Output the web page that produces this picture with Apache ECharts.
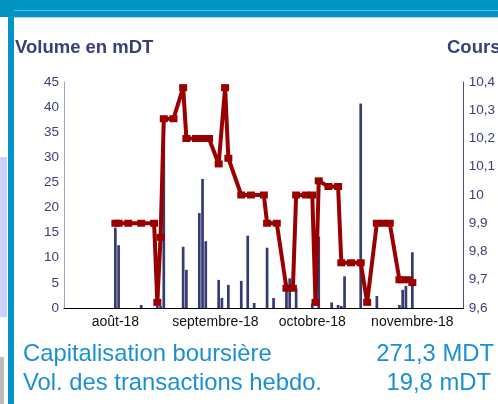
<!DOCTYPE html>
<html>
<head>
<meta charset="utf-8">
<script src="https://cdn.jsdelivr.net/npm/echarts@6/dist/echarts.min.js"></script>
<style>
  html, body { margin: 0; padding: 0; background: #fff; }
  #main { width: 498px; height: 404px; }
</style>
</head>
<body>
<div id="main"></div>
<script>
// volumes journaliers (mDT)
var volDates = ['2018-08-01','2018-08-02','2018-08-09','2018-08-14','2018-08-15','2018-08-16',
  '2018-08-22','2018-08-23','2018-08-27','2018-08-28','2018-08-29','2018-09-02','2018-09-03',
  '2018-09-05','2018-09-09','2018-09-11','2018-09-13','2018-09-17','2018-09-19','2018-09-23',
  '2018-09-24','2018-09-26','2018-10-01','2018-10-03','2018-10-07','2018-10-09','2018-10-10',
  '2018-10-11','2018-10-16','2018-10-21','2018-10-28','2018-10-29','2018-10-30','2018-11-01'];
var volumes = [16.0, 12.5, 0.6, 0.5, 0.4, 33, 12.2, 7.6, 18.9, 25.7, 13.3, 5.6, 2.0,
  4.6, 5.4, 14.4, 1.0, 12.0, 2.0, 4.4, 5.9, 3.9, 0.9, 14.2, 1.1, 0.6, 0.4,
  6.3, 40.7, 2.4, 0.6, 3.6, 4.4, 11.1];

// cours (DT)
var coursDates = ['2018-08-01','2018-08-02','2018-08-05','2018-08-09','2018-08-13','2018-08-14',
  '2018-08-15','2018-08-16','2018-08-19','2018-08-22','2018-08-23','2018-08-26','2018-08-28',
  '2018-08-30','2018-09-02','2018-09-04','2018-09-05','2018-09-09','2018-09-12','2018-09-16',
  '2018-09-17','2018-09-20','2018-09-23','2018-09-25','2018-09-26','2018-09-29','2018-10-01',
  '2018-10-02','2018-10-03','2018-10-06','2018-10-09','2018-10-10','2018-10-13','2018-10-16',
  '2018-10-18','2018-10-21','2018-10-23','2018-10-25','2018-10-28','2018-10-29','2018-10-31',
  '2018-11-01'];
var cours = [9.90, 9.90, 9.90, 9.90, 9.90, 9.62, 9.85, 10.27, 10.27, 10.38, 10.20, 10.20, 10.20,
  10.20, 10.11, 10.38, 10.13, 10.00, 10.00, 10.00, 9.90, 9.90, 9.67, 9.67, 10.00, 10.00, 10.00,
  9.62, 10.05, 10.03, 10.03, 9.76, 9.76, 9.76, 9.62, 9.90, 9.90, 9.90, 9.70, 9.70, 9.70, 9.69];

// étiquettes de l'axe des dates
var monthStarts = ['2018-08-01', '2018-09-01', '2018-10-01', '2018-11-01'];
var tickLabels = ['août-18', 'septembre-18', 'octobre-18', 'novembre-18'];

var volData = volDates.map(function (d, i) { return [d, volumes[i]]; });
var coursData = coursDates.map(function (d, i) { return [d, cours[i]]; });

function dayKey(v) {
  var d = new Date(v);
  var m = d.getMonth() + 1, j = d.getDate();
  return d.getFullYear() + '-' + (m < 10 ? '0' : '') + m + '-' + (j < 10 ? '0' : '') + j;
}

var blue = '#0294c4';
var navy = '#353b73';
var txt = '#3a3f78';
var big = '23.8px "Liberation Sans", Arial';

var myChart = echarts.init(document.getElementById('main'));
var option = {
  animation: false,
  backgroundColor: '#fff',
  grid: { left: 64, right: 30, top: 82, bottom: 96 },
  graphic: [
    // bandeau du haut et barre gauche
    { type: 'rect', shape: { x: 0, y: 0, width: 498, height: 17 }, style: { fill: blue } },
    { type: 'rect', shape: { x: 14, y: 10, width: 484, height: 1 }, style: { fill: '#5fbde0' } },
    { type: 'rect', shape: { x: 14, y: 17, width: 484, height: 1 }, style: { fill: '#a9dcef' } },
    { type: 'rect', shape: { x: 8, y: 0, width: 6, height: 404 }, style: { fill: blue } },
    { type: 'rect', shape: { x: 0, y: 157, width: 7, height: 160 }, style: { fill: '#c8d2fa' } },
    { type: 'rect', shape: { x: 0, y: 357, width: 4, height: 47 }, style: { fill: '#bdbdbd' } },
    // titres
    { type: 'text', style: { x: 15, y: 48, text: 'Volume en mDT', font: 'bold 18.5px "Liberation Sans", Arial', fill: txt, verticalAlign: 'middle' } },
    { type: 'text', style: { x: 447, y: 48, text: 'Cours', font: 'bold 18.5px "Liberation Sans", Arial', fill: txt, verticalAlign: 'middle' } },
    // chiffres clés
    { type: 'text', style: { x: 23, y: 354, text: 'Capitalisation boursière', font: big, fill: '#1b8fd5', verticalAlign: 'middle' } },
    { type: 'text', style: { x: 494, y: 354, text: '271,3 MDT', font: big, fill: '#1b8fd5', verticalAlign: 'middle', align: 'right' } },
    { type: 'text', style: { x: 23, y: 383, text: 'Vol. des transactions hebdo.', font: big, fill: '#1b8fd5', verticalAlign: 'middle' } },
    { type: 'text', style: { x: 491, y: 383, text: '19,8 mDT', font: big, fill: '#1b8fd5', verticalAlign: 'middle', align: 'right' } }
  ],
  xAxis: {
    type: 'time',
    min: new Date(2018, 6, 16, 12).getTime(),
    max: new Date(2018, 10, 16, 12).getTime(),
    splitNumber: 4,
    minInterval: 28 * 86400000,
    axisLine: { lineStyle: { color: '#000', width: 1 } },
    axisTick: { show: false },
    splitLine: { show: false },
    axisLabel: {
      color: '#111',
      fontSize: 14,
      fontFamily: 'Liberation Sans, Arial',
      margin: 7,
      showMinLabel: false,
      showMaxLabel: false,
      hideOverlap: false,
      formatter: function (v) {
        var k = monthStarts.indexOf(dayKey(v));
        return k >= 0 && new Date(v).getHours() === 0 ? tickLabels[k] : '';
      }
    }
  },
  yAxis: [{
    type: 'value',
    min: 0, max: 45, interval: 5,
    axisLine: { show: true, lineStyle: { color: '#a3a3c2' } },
    axisTick: { show: false },
    splitLine: { show: false },
    axisLabel: { color: txt, fontSize: 13.5, fontFamily: 'Liberation Sans, Arial', margin: 5 }
  }, {
    type: 'value',
    min: 9.6, max: 10.4, interval: 0.1,
    position: 'right',
    axisLine: { show: true, lineStyle: { color: '#4a4f80' } },
    axisTick: { show: false },
    splitLine: { show: false },
    axisLabel: {
      color: txt, fontSize: 13.5, fontFamily: 'Liberation Sans, Arial', margin: 5,
      formatter: function (v) { return String(Math.round(v * 10) / 10).replace('.', ','); }
    }
  }],
  series: [{
    name: 'Volume',
    type: 'bar',
    yAxisIndex: 0,
    barWidth: 2.7,
    itemStyle: { color: navy },
    data: volData
  }, {
    name: 'Cours',
    type: 'line',
    yAxisIndex: 1,
    symbol: 'rect',
    symbolSize: [8, 7],
    lineStyle: { color: '#990000', width: 4 },
    itemStyle: { color: '#990000' },
    data: coursData
  }]
};
myChart.setOption(option);
</script>
</body>
</html>
